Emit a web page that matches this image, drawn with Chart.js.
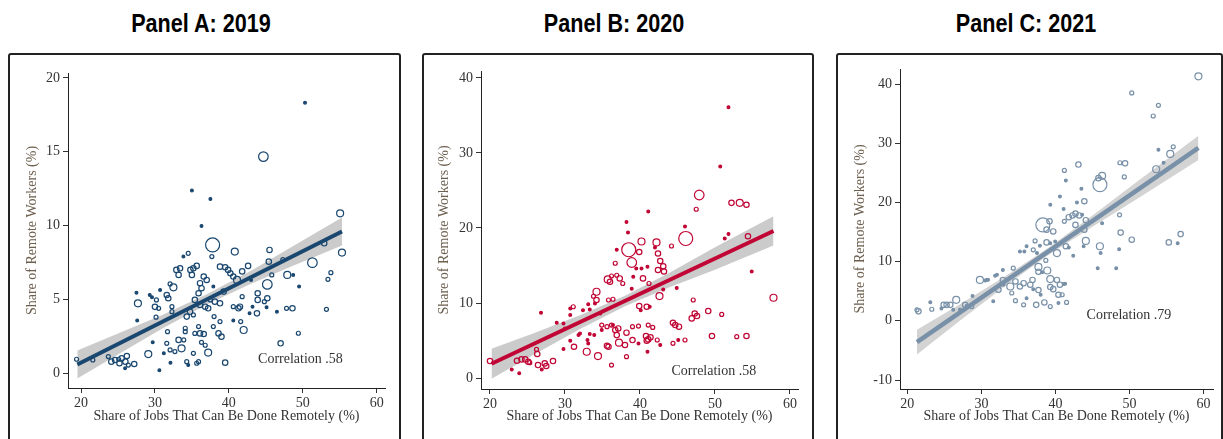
<!DOCTYPE html>
<html>
<head>
<meta charset="utf-8">
<script src="https://cdn.jsdelivr.net/npm/chart.js@4.4.1/dist/chart.umd.min.js"></script>
<style>
body { margin: 0; background: #fff; width: 1223px; height: 439px; overflow: hidden; position: relative; }
.ttl { position: absolute; top: 8px; width: 300px; text-align: center; font: bold 26px "Liberation Sans", Arial, sans-serif; line-height: 30px; color: #000; transform: scaleX(0.83); }
.frame { position: absolute; top: 53px; height: 420px; border: 2px solid #222; border-radius: 3px; box-sizing: border-box; }
canvas { position: absolute; top: 0; }
</style>
</head>
<body>
<div class="ttl" style="left:51px">Panel A: 2019</div>
<div class="ttl" style="left:464px">Panel B: 2020</div>
<div class="ttl" style="left:876px">Panel C: 2021</div>
<div class="frame" style="left:8px;width:393px"></div>
<div class="frame" style="left:422px;width:392px"></div>
<div class="frame" style="left:836px;width:387px"></div>
<canvas id="panelA" width="410" height="439" style="left:0"></canvas>
<canvas id="panelB" width="410" height="439" style="left:410px"></canvas>
<canvas id="panelC" width="403" height="439" style="left:820px"></canvas>
<script>
// tick labels
const xTicks = [20, 30, 40, 50, 60];
const yTicksA = [0, 5, 10, 15, 20];
const yTicksB = [0, 10, 20, 30, 40];
const yTicksC = [-10, 0, 10, 20, 30, 40];

// Panel A: 2019  (x = jobs that can be done remotely, y = remote workers, w = size class)
const xA = [19.4,21.6,23.7,24.1,24.6,25.2,25.5,26,26.2,26.4,25.96,27.2,25.1,27.5,27.7,27.6,29.3,29.6,29.7,29.1,30.6,30.2,30,30.5,30.7,30.15,31.2,31.7,31.6,31.8,32.05,32.5,32.3,32.3,31.6,32.05,32.1,32.7,32.9,33.2,33.4,33.2,33.6,33.9,34.5,33.85,34.8,35.2,35.65,35,34.3,34.75,35.2,34.1,34.1,34.3,34.5,35.65,35.9,35.2,35,36.3,37.5,37.8,37.7,35.9,35.4,36.1,36.6,36.3,36.8,37.2,36.1,36.3,37,36.6,35.9,35.4,36.1,36.8,37.2,37.5,38.1,38.8,38,37.9,38.6,39.0,39.5,37.9,39.3,38.8,39.5,39.9,40.2,40.8,40.6,40.6,40.6,41.3,50.3,44.67,55.05,55.3,51.3,52.9,53.8,53.4,53.2,47.9,48.7,49.5,47.8,48.6,49.4,47.0,46.5,45.5,45.4,45.8,45.2,45.2,45.1,44.8,43.9,43.9,43.8,42.8,43.2,42.6,43.0,42.0,41.6,41.5,41.8,41.8,41.1,38.8,47.3];
const yA = [0.95,0.9,1.13,0.79,0.9,0.68,1.02,0.79,1.17,0.56,0.34,0.63,0.95,5.46,4.74,3.57,5.3,5.15,2.1,1.3,0.2,4.97,4.5,4.4,5.64,3.8,1.35,2.82,5.3,5.08,6.05,5.82,4.51,4.17,2.03,1.58,0.72,1.47,7.0,6.66,7.11,2.26,1.69,2.26,8.12,7.9,7.0,7.11,7.27,6.66,3.84,4.17,3.95,3.05,2.82,0.79,0.56,0.68,0.79,1.35,12.37,9.98,11.8,8.69,7.9,3.16,2.7,2.7,2.66,2.1,1.9,1.4,6.1,5.76,6.32,6.55,5.42,4.97,4.63,4.51,4.4,4.97,4.85,4.74,3.84,3.16,2.7,2.48,0.72,5.87,5.53,7.22,7.18,7.0,6.77,8.24,6.55,4.51,3.57,4.4,18.32,14.67,10.83,8.17,7.49,8.8,6.81,6.36,4.33,6.66,6.66,5.87,4.4,4.4,2.71,2.03,4.17,8.35,7.56,6.66,6.02,5.08,4.47,4.85,5.42,4.97,4.06,4.06,4.51,7.27,6.32,2.93,3.5,4.51,5.19,6.9,6.32,3.5,7.7];
const wA = [1,1,1,2,2,2,2,2,2,1,0,2,1,0,3,0,0,0,0,3,0,1,2,1,0,1,0,1,2,2,1,3,1,1,1,1,0,1,2,2,2,2,3,1,1,0,2,2,2,2,2,2,1,1,1,1,0,1,1,1,0,0,0,5,1,1,1,2,2,1,1,3,2,2,2,2,2,2,2,2,2,1,2,2,1,1,2,2,2,0,2,2,2,2,2,3,2,1,0,2,0,4,3,3,4,2,1,1,1,3,0,0,1,2,1,2,0,2,2,1,4,2,0,1,2,2,2,0,0,2,0,3,1,2,1,2,3,1,1];
const fitXA = [19.5, 55.3];
const fitYA = [0.6, 9.6];
const bandXA = [19.5, 25, 31, 37, 43, 49, 55.3];
const bandHiA = [1.55, 2.7, 3.95, 5.35, 6.95, 8.7, 10.55];
const bandLoA = [-0.35, 1.28, 3.03, 4.65, 6.07, 7.35, 8.65];

// Panel B: 2020
const xB = [20,22.9,23.9,23.6,24.2,24.7,25.1,25.3,26.3,26.2,26.4,27.3,27.5,28.4,26.9,29.8,31.2,30.7,30,29.8,26.8,28.9,30.7,31.1,30.7,32.4,33.3,33.1,34,34.2,34.2,33.8,35.7,36,36.2,36.9,37.3,37.7,36.7,36.9,38.2,38.4,40.2,39.9,38.9,39.5,40.2,38.9,35.8,36.4,34.7,34.9,34.9,35.6,36.2,36.7,37.1,36.9,34.4,36.2,32.9,33,33.3,32,31.8,33.1,33.9,35.6,35.8,38.2,38,38.2,39,39.8,39,40.8,40.9,39.8,40.1,40.9,38.5,37.2,36.4,39.1,40.4,39.9,51.8,50.7,47.9,47.5,52.2,53.3,54.2,41.1,46,46.1,51.8,51.3,54.4,42.2,42,44.2,42.4,42.7,43.1,43.2,42.4,42.6,43.1,44.9,47.1,57.8,49.1,50.9,47.3,47.6,46.9,54.9,44.4,45.2,44.7,41.7,41.4,42.3,42.7,46,45.1,44.4,49.6,52.9,54.2,41,41.2,41.3,41.1,41.1,41];
const yB = [2.26,1.15,0.62,2.3,2.48,2.48,2.17,2.04,3.2,3.81,1.73,1.95,1.6,2.26,1.15,3.86,4.17,4.97,6.61,7.28,8.7,7.37,8.39,9.5,9.27,9.05,9.14,9.85,9.94,11.5,10.4,10.9,13.14,12.83,13.6,13.7,13.27,12.6,15.3,17.1,20.8,19.4,18.2,16.8,15.4,14.6,14.6,11.9,10.4,10.5,8.6,7.06,6.4,6.84,7.06,6.4,6.61,5.72,2.93,1.73,3.5,5.06,5.86,5.95,5.72,4.6,5.72,4.3,4.17,2.84,4.4,6.04,6.84,6.93,5.06,5.6,4.97,4.6,9.05,9.5,17.1,4.71,7.06,13.5,13.28,9.59,36.1,28.2,24.4,22.5,23.35,23.35,23.1,22.2,20.2,18.6,19.2,18.6,18.9,18.07,17.4,17.6,16.6,15.6,14.9,14.2,14.4,10.93,11.8,12,10.4,10.7,8.93,8.48,8.6,8.26,7.95,14.2,7.37,6.84,7.06,6.75,5.42,5.07,4.4,5.07,5.07,4.62,5.6,5.51,5.6,14.83,12.6,9.5,7.06,5.15,3.51];
const wB = [2,0,0,2,2,2,2,1,2,1,2,2,2,2,0,0,2,0,0,0,0,0,0,1,0,0,0,0,0,3,2,1,3,2,1,1,2,1,1,0,0,0,3,2,4,0,0,0,1,1,0,1,0,1,1,2,2,2,3,1,3,0,0,0,0,0,0,2,2,1,2,2,1,1,2,2,2,0,0,2,5,3,0,0,2,2,0,0,4,1,2,3,2,0,0,5,0,0,2,3,0,1,2,2,2,2,2,3,0,0,1,3,2,1,2,2,2,0,2,2,2,1,2,1,0,1,0,1,2,1,2,0,1,0,1,2,0];
const fitXB = [20.2, 57.8];
const fitYB = [1.9, 19.6];
const bandXB = [20.2, 26, 32, 38, 44, 50, 57.8];
const bandHiB = [3.9, 6.05, 8.37, 10.98, 14.08, 17.42, 21.55];
const bandLoB = [-0.1, 3.2, 6.53, 9.58, 12.12, 14.42, 17.65];

// Panel C: 2021
const xC = [59.3,50.3,53.9,53.2,53.9,55.9,55.5,53.6,54.6,48.7,49.4,49.3,48.65,48.8,50.3,55.3,56.5,56.9,48.6,48.2,45.7,46.1,46.0,46.3,46.0,45.8,46.3,43.1,41.2,41.4,43.5,40.6,39.3,42.9,43.9,41.1,41.8,42.3,42.7,43.2,43.6,41.2,42.7,44.1,43.9,42.8,44.1,43.8,42.4,41.8,41.4,40.2,39.96,39.7,38.8,38.3,39.2,38.8,39.3,37.25,37.9,38.7,37.7,37.7,38.2,39.3,40.2,40.6,41.1,41.3,39.7,39.3,40.4,40.9,41.5,40.4,39.3,38.5,37.4,38,37.7,37.0,36.6,36.9,35.7,35.2,34.6,33.9,34.1,34.6,35.7,36.1,33.4,34.3,32.9,32.3,33,32.1,31.85,30.7,29.8,30.5,31.6,32.9,28.8,28.7,28.0,27.8,27.1,26.6,26.2,25.8,25.3,24.9,24.6,23.3,23.1,21.5,21.3,36.1,35.8,35.2,37.5,37.0,30.9,38.9];
const yC = [41.3,38.5,36.4,34.6,28.9,29.4,28.2,25.6,26.7,26.7,26.6,24.3,17.9,14.9,13.7,13.25,13.1,14.65,12.1,8.9,8.9,11.45,12.6,16.5,23.0,24.1,24.5,26.4,25.4,23.7,22.3,21.0,19.6,20.0,20.2,18.9,17.5,17.8,18.1,17.8,17.9,16.8,16.2,17.0,15.4,14.9,13.5,12.6,11.0,12.4,12.6,11.45,13.4,15.1,15.4,16.2,16.8,13.25,13.1,13.5,12.7,10.2,9.1,8.3,8.2,7.05,6.9,6.1,6.2,6.25,5.35,5.7,4.4,4.4,3.1,3.0,2.4,3.1,2.7,4.4,5.2,5.35,6.1,6.9,6.35,5.8,6.65,5.8,4.7,3.4,2.7,3.8,6.9,8.9,6.9,5.25,6.1,7.8,7.6,6.9,6.9,6.8,3.3,8.6,4.2,2.4,2.5,2.7,1.9,3.55,1.85,2.7,2.7,2.7,2.1,1.95,3.15,1.6,1.85,12.6,11.7,11.7,11.45,12.0,6.93,8.5];
const wC = [3,1,1,1,0,1,3,3,0,1,2,1,1,2,2,2,0,2,0,0,0,0,3,0,5,2,3,2,1,0,0,0,0,0,2,0,2,2,2,2,0,1,2,2,2,0,3,0,0,0,2,3,0,2,2,5,2,2,0,1,0,1,3,2,0,3,2,2,0,0,2,2,2,1,1,0,1,2,2,0,2,0,2,2,2,2,2,3,1,1,1,0,0,1,2,2,0,0,0,0,3,0,0,0,0,1,0,2,0,3,0,2,2,2,0,1,0,2,1,0,0,0,0,1,0,3];
const fitXC = [21.3, 59.3];
const fitYC = [-3.6, 29.2];
const bandXC = [21.3, 27, 33, 39, 45, 51, 59.3];
const bandHiC = [-1.5, 2.72, 7.35, 12.3, 17.8, 23.48, 31.25];
const bandLoC = [-5.7, -0.08, 5.65, 11.06, 15.9, 20.58, 27.15];

const radius = [1.4, 2, 2.7, 3.5, 4.8, 7];
const serif = "'Liberation Serif', 'DejaVu Serif', serif";

function makePanel(id, p) {
  const pts = p.xs.map((x, i) => ({x: x, y: p.ys[i]}));
  const corrText = {
    id: 'corr',
    afterDatasetsDraw(chart) {
      const ctx = chart.ctx;
      ctx.save();
      ctx.font = "14px " + serif;
      ctx.fillStyle = '#333';
      ctx.textBaseline = 'middle';
      ctx.fillText(p.corr, chart.scales.x.getPixelForValue(p.corrAt[0]), chart.scales.y.getPixelForValue(p.corrAt[1]));
      ctx.restore();
    }
  };
  return new Chart(document.getElementById(id), {
    type: 'line',
    data: {
      datasets: [
        {data: p.fitX.map((x, i) => ({x: x, y: p.fitY[i]})), borderColor: p.color, borderWidth: p.lineW, pointRadius: 0, fill: false},
        {data: pts, showLine: false, pointRadius: p.ws.map(w => radius[w]), pointBorderWidth: 1.2,
          pointBorderColor: p.color, pointBackgroundColor: p.ws.map(w => w === 0 ? p.color : 'rgba(0,0,0,0)')},
        {data: p.bandX.map((x, i) => ({x: x, y: p.bandHi[i]})), borderColor: 'rgba(0,0,0,0)', borderWidth: 0, pointRadius: 0, fill: '+1', backgroundColor: p.band},
        {data: p.bandX.map((x, i) => ({x: x, y: p.bandLo[i]})), borderColor: 'rgba(0,0,0,0)', borderWidth: 0, pointRadius: 0, fill: false}
      ]
    },
    options: {
      responsive: false,
      animation: false,
      layout: {padding: p.pad},
      plugins: {legend: {display: false}, tooltip: {enabled: false}},
      scales: {
        x: {
          type: 'linear', min: p.xMin, max: p.xMax,
          afterBuildTicks: s => { s.ticks = xTicks.map(v => ({value: v})); },
          afterFit: s => { s.height = p.xH; },
          grid: {drawOnChartArea: false, drawTicks: true, tickLength: 5, tickColor: '#333'},
          border: {display: true, color: '#222', width: 1},
          ticks: {color: '#333', font: {family: serif, size: 14}, padding: 2, maxRotation: 0, autoSkip: false},
          title: {display: true, text: 'Share of Jobs That Can Be Done Remotely (%)', color: '#333', font: {family: serif, size: 14}, padding: {top: 0, bottom: 14}}
        },
        y: {
          type: 'linear', min: p.yMin, max: p.yMax,
          afterBuildTicks: s => { s.ticks = p.yTicks.map(v => ({value: v})); },
          afterFit: s => { s.width = 58; },
          grid: {drawOnChartArea: false, drawTicks: true, tickLength: 5, tickColor: '#333'},
          border: {display: true, color: '#222', width: 1},
          ticks: {color: '#333', font: {family: serif, size: 14}, padding: 3, autoSkip: false},
          title: {display: true, text: 'Share of Remote Workers (%)', color: '#6e6050', font: {family: serif, size: 14}, padding: {top: p.yTitlePad, bottom: 0}}
        }
      }
    },
    plugins: [corrText]
  });
}

makePanel('panelA', {
  xs: xA, ys: yA, ws: wA, fitX: fitXA, fitY: fitYA, bandX: bandXA, bandHi: bandHiA, bandLo: bandLoA,
  color: '#1a476f', band: '#cbcbcb', lineW: 4, yTicks: yTicksA,
  xMin: 18.24, xMax: 61.12, yMin: -0.995, yMax: 20.33,
  pad: {left: 10, right: 25, top: 73, bottom: 0}, xH: 51, yTitlePad: 14,
  corr: 'Correlation .58', corrAt: [43.95, 0.97]
});
makePanel('panelB', {
  xs: xB, ys: yB, ws: wB, fitX: fitXB, fitY: fitYB, bandX: bandXB, bandHi: bandHiB, bandLo: bandLoB,
  color: '#c10534', band: '#cbcbcb', lineW: 4, yTicks: yTicksB,
  xMin: 18.8, xMax: 61.07, yMin: -1.465, yMax: 40.93,
  pad: {left: 13, right: 22, top: 71, bottom: 0}, xH: 50, yTitlePad: 12.5,
  corr: 'Correlation .58', corrAt: [44.2, 0.84]
});
makePanel('panelC', {
  xs: xC, ys: yC, ws: wC, fitX: fitXC, fitY: fitYC, bandX: bandXC, bandHi: bandHiC, bandLo: bandLoC,
  color: '#7890a8', band: '#d3d3d3', lineW: 4.5, yTicks: yTicksC,
  xMin: 19.01, xMax: 61.27, yMin: -11.52, yMax: 42.54,
  pad: {left: 22, right: 10, top: 69, bottom: 0}, xH: 50, yTitlePad: 9.5,
  corr: 'Correlation .79', corrAt: [44.2, 0.9]
});
</script>
</body>
</html>
